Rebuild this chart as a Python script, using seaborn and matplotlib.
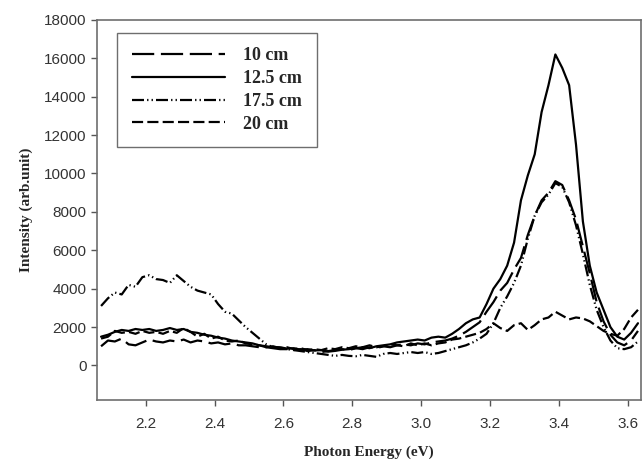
import numpy as np
import pandas as pd
import matplotlib
matplotlib.use("Agg")
import matplotlib.pyplot as plt
import seaborn as sns

# photon energy grid (eV)
energy = np.round(np.arange(2.07, 3.6301, 0.02), 2)

# intensity (arb. unit)
i_10 = [1000, 1300, 1250, 1400, 1100, 1050, 1200, 1350, 1250, 1200,
        1300, 1250, 1350, 1200, 1300, 1250, 1150, 1200, 1100, 1150,
        1050, 1050, 1000, 950, 950, 900, 850, 850, 800, 850,
        750, 800, 700, 750, 800, 850, 800, 900, 850, 950,
        900, 1000, 950, 1050, 1100, 1050, 1150, 1100, 1200, 1250,
        1300, 1400, 1550, 1750, 2000, 2250, 2800, 3300, 3900, 4300,
        5000, 5600, 6800, 7800, 8600, 9000, 9600, 9400, 8600, 7600,
        6200, 4800, 3300, 2300, 1600, 1200, 1050, 1300, 1800]
i_12_5 = [1500, 1600, 1750, 1850, 1800, 1900, 1850, 1900, 1800, 1850,
          1950, 1850, 1900, 1750, 1700, 1600, 1550, 1450, 1400, 1300,
          1250, 1200, 1150, 1050, 1000, 950, 950, 880, 900, 820,
          850, 780, 800, 720, 760, 820, 850, 900, 950, 900,
          1000, 1050, 1100, 1200, 1250, 1300, 1350, 1300, 1450, 1500,
          1450, 1650, 1900, 2200, 2400, 2500, 3200, 4000, 4500, 5200,
          6400, 8600, 9900, 11000, 13200, 14600, 16200, 15500, 14600, 11500,
          7500, 5200, 3800, 2900, 2000, 1500, 1350, 1700, 2200]
i_17_5 = [3100, 3500, 3800, 3700, 4200, 4100, 4600, 4700, 4500, 4450,
          4300, 4700, 4400, 4100, 3900, 3800, 3700, 3200, 2800, 2700,
          2350, 2000, 1700, 1400, 1100, 950, 900, 850, 800, 750,
          700, 650, 600, 550, 500, 550, 500, 480, 550, 500,
          450, 600, 650, 600, 650, 700, 650, 700, 600, 650,
          750, 850, 950, 1050, 1200, 1400, 1650, 2200, 3000, 3600,
          4300, 5200, 6600, 7800, 8500, 8900, 9500, 9300, 8500, 7300,
          5800, 4200, 2900, 2000, 1300, 900, 850, 950, 1250]
i_20 = [1400, 1500, 1800, 1700, 1750, 1650, 1800, 1700, 1750, 1650,
        1800, 1700, 1950, 1750, 1500, 1650, 1400, 1500, 1300, 1250,
        1300, 1150, 1100, 1050, 950, 1000, 900, 950, 850, 900,
        800, 850, 800, 900, 850, 950, 900, 1000, 950, 1050,
        950, 1000, 1100, 1050, 1000, 1150, 1050, 1150, 1050, 1150,
        1200, 1350, 1400, 1500, 1600, 1700, 1900, 2200, 1950, 1800,
        2100, 2200, 1850, 2100, 2400, 2500, 2800, 2600, 2400, 2500,
        2450, 2300, 2050, 1800, 1650, 1550, 1900, 2500, 2900]

labels = ["10 cm", "12.5 cm", "17.5 cm", "20 cm"]
series = [i_10, i_12_5, i_17_5, i_20]

frames = []
for lab, vals in zip(labels, series):
    frames.append(pd.DataFrame({"energy": energy, "intensity": vals, "distance": lab}))
df = pd.concat(frames, ignore_index=True)

sns.set_style("ticks")
plt.rcParams["font.family"] = ["Liberation Sans", "DejaVu Sans"]

fig = plt.figure(figsize=(6.42, 4.63), dpi=100)
ax = fig.add_axes([0.151, 0.136, 0.847, 0.821])

dash_map = {"10 cm": (10, 3), "12.5 cm": "",
            "17.5 cm": (5.4, 1.4, 0.6, 1.4, 0.6, 1.4), "20 cm": (5, 1.9)}
sns.lineplot(data=df, x="energy", y="intensity", style="distance",
             style_order=labels, dashes=dash_map, color="black",
             linewidth=1.6, ax=ax, legend=True)

ax.set_xlim(2.058, 3.638)
ax.set_ylim(-1800, 18000)
ax.set_xticks([2.2, 2.4, 2.6, 2.8, 3.0, 3.2, 3.4, 3.6])
ax.set_yticks(range(0, 18001, 2000))
ax.tick_params(direction="out", length=4, width=1, colors="#555555",
               labelcolor="#333333", labelsize=11)
ax.tick_params(axis="x", pad=8)
for s in ax.spines.values():
    s.set_color("#6e6e6e")
    s.set_linewidth(1.2)

lab_font = dict(family="Liberation Serif", weight="bold", size=11)
ax.set_xlabel("Photon Energy (eV)", fontdict=lab_font, labelpad=11)
ax.set_ylabel("Intensity (arb.unit)", fontdict=lab_font, labelpad=8)

handles, _ = ax.get_legend_handles_labels()
leg = ax.legend(handles[-4:], labels, loc="upper left",
                bbox_to_anchor=(0.037, 0.966), borderaxespad=0,
                prop=dict(family="Liberation Serif", weight="bold", size=13),
                handlelength=5.2, handletextpad=1.0, labelspacing=0.32,
                fancybox=False, framealpha=1, borderpad=0.8)
leg.get_frame().set_edgecolor("#6e6e6e")
leg.get_frame().set_linewidth(1.0)
for h in leg.get_lines():
    h.set_linewidth(1.6)
    h.set_color("black")

fig.savefig("out.png", dpi=100)
